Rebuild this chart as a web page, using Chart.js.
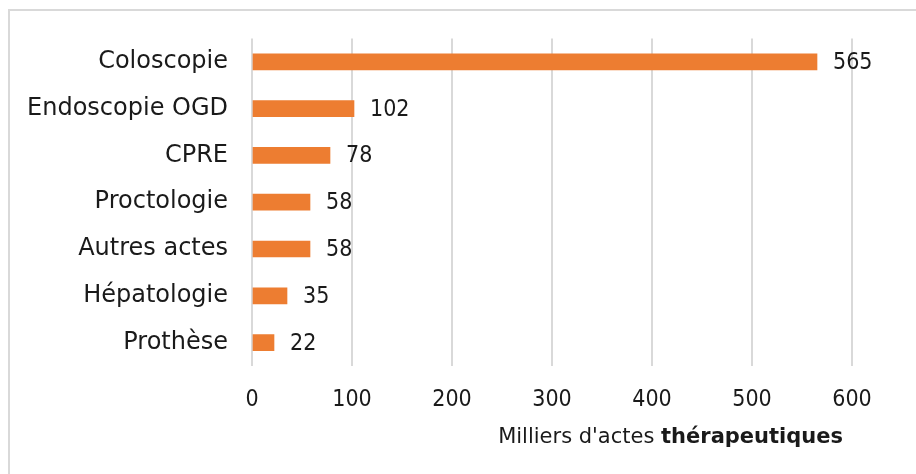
<!DOCTYPE html>
<html>
<head>
<meta charset="utf-8">
<script src="https://cdn.jsdelivr.net/npm/chart.js@4.4.1/dist/chart.umd.min.js"></script>
<style>
  html, body { margin: 0; padding: 0; background: #fff; }
  #wrap { position: relative; width: 916px; height: 474px; overflow: hidden; }
  #frame { position: absolute; left: 8px; top: 9px; width: 1000px; height: 600px;
           border-left: 2px solid #d9d9d9; border-top: 2px solid #d9d9d9; }
  #mycanvas { position: absolute; left: 0; top: 0; }
</style>
</head>
<body>
<div id="wrap">
  <div id="frame"></div>
  <canvas id="mycanvas" width="916" height="474"></canvas>
</div>
<script>
let categories = ["Coloscopie", "Endoscopie OGD", "CPRE", "Proctologie", "Autres actes", "Hépatologie", "Prothèse"];
let actes = [565, 102, 78, 58, 58, 35, 22];
let xTicks = [0, 100, 200, 300, 400, 500, 600];

let fontFamily = "'DejaVu Sans', sans-serif";
// chiffres étroits et hauts
let digitFamily = "'Liberation Sans Narrow', 'DejaVu Sans Condensed', 'DejaVu Sans', sans-serif";
let textColor = "#1a1a1a";

// valeurs écrites au bout des barres + titre de l'axe (partie en gras)
let labelsPlugin = {
    id: "labelsPlugin",
    afterDatasetsDraw: function(chart) {
        let ctx = chart.ctx;
        let meta = chart.getDatasetMeta(0);
        ctx.save();
        ctx.font = "23px " + digitFamily;
        ctx.fillStyle = textColor;
        ctx.textAlign = "left";
        ctx.textBaseline = "middle";
        meta.data.forEach(function(bar, i) {
            ctx.fillText(String(actes[i]), bar.x + 16, bar.y + 1);
        });

        let part1 = "Milliers d'actes ";
        let part2 = "thérapeutiques";
        ctx.font = "bold 21px " + fontFamily;
        let w2 = ctx.measureText(part2).width;
        ctx.font = "21px " + fontFamily;
        let w1 = ctx.measureText(part1).width;
        let right = 843;
        let y = 438;
        ctx.fillText(part1, right - w2 - w1, y);
        ctx.font = "bold 21px " + fontFamily;
        ctx.fillText(part2, right - w2, y);
        ctx.restore();
    }
};

let ctx = document.getElementById("mycanvas");

let chart = new Chart(ctx, {
    type: "bar",
    data: {
        labels: categories,
        datasets: [{
            data: actes,
            backgroundColor: "#ED7D31",
            borderWidth: 0,
            barThickness: 16
        }]
    },
    options: {
        indexAxis: "y",
        responsive: false,
        animation: false,
        layout: { padding: { top: 38, right: 64, left: 0, bottom: 0 } },
        plugins: {
            legend: { display: false },
            tooltip: { enabled: false }
        },
        scales: {
            x: {
                min: 0,
                max: 600,
                afterBuildTicks: function(scale) {
                    scale.ticks = xTicks.map(function(v) { return { value: v }; });
                },
                afterFit: function(scale) { scale.height = 108; },
                grid: { color: "#d9d9d9", lineWidth: 2, drawTicks: false },
                border: { display: false },
                ticks: {
                    padding: 20,
                    color: textColor,
                    font: { family: digitFamily, size: 23 }
                }
            },
            y: {
                afterFit: function(scale) { scale.width = 252; },
                grid: { display: false, drawTicks: false },
                border: { display: false },
                ticks: {
                    padding: 24,
                    color: textColor,
                    font: { family: fontFamily, size: 24 }
                }
            }
        }
    },
    plugins: [labelsPlugin]
});
</script>
</body>
</html>
